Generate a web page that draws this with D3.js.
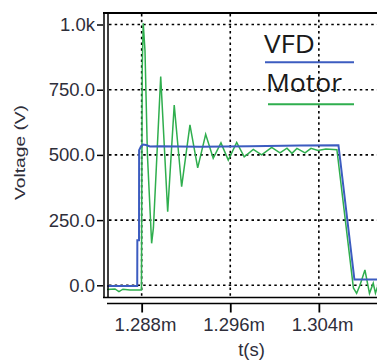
<!DOCTYPE html>
<html>
<head>
<meta charset="utf-8">
<script src="https://cdn.jsdelivr.net/npm/d3@7"></script>
<style>
  html, body { margin: 0; padding: 0; background: #fff; }
  svg { display: block; }
</style>
</head>
<body>
<div id="chart"></div>
<script>
// time in ms (axis shows "m" suffix), voltage in V
const vfdTime = [1.28487, 1.28760, 1.28761, 1.28776, 1.28777, 1.28794, 1.28812, 1.28839, 1.28875,
  1.28965, 1.29326, 1.29778, 1.30229, 1.30577, 1.30721, 1.30930];
const vfdVolt = [-3, -3, 173, 173, 518, 533, 540, 538, 532,
  533, 531, 533, 536, 537, 22, 22];

const motorTime = [1.28487, 1.28559, 1.28595, 1.28631, 1.28694, 1.28798, 1.28805, 1.28814, 1.28830,
  1.28852, 1.28890, 1.28906, 1.28972, 1.29035, 1.29094, 1.29161, 1.29236, 1.29306, 1.29378,
  1.29446, 1.29516, 1.29582, 1.29658, 1.29726, 1.29808, 1.29883, 1.29974, 1.30049, 1.30112,
  1.30157, 1.30202, 1.30275, 1.30329, 1.30392, 1.30464, 1.30563, 1.30712, 1.30741, 1.30771,
  1.30816, 1.30857, 1.30891, 1.30911, 1.30930];
const motorVolt = [-16, -14, -24, -15, -18, -18, 830, 1005, 900,
  500, 161, 220, 800, 282, 691, 378, 615, 450, 579,
  487, 546, 480, 548, 493, 521, 500, 529, 508, 526,
  506, 525, 508, 525, 517, 523, 520, -10, -31, 0,
  59, -31, 8, -30, -5];

const xTicks = [1.288, 1.296, 1.304];
const yTicks = [0, 250, 500, 750, 1000];
const yTickLabels = ["0.0", "250.0", "500.0", "750.0", "1.0k"];
const seriesNames = ["VFD", "Motor"];
const seriesColors = ["#3c5cc0", "#2fae4e"];

const width = 377, height = 361;
const plotL = 107, plotR = 377, plotT = 12, plotB = 297;

const svg = d3.select("#chart").append("svg")
  .attr("width", width)
  .attr("height", height);

const x = d3.scaleLinear().domain([1.28487, 1.30925]).range([plotL, plotR]);
const y = d3.scaleLinear().domain([0, 1000]).range([285.3, 24.5]);

svg.append("clipPath").attr("id", "plot")
  .append("rect").attr("x", plotL).attr("y", plotT).attr("width", plotR - plotL + 5).attr("height", plotB - plotT);

// dotted grid
const grid = svg.append("g")
  .attr("stroke", "#000")
  .attr("stroke-width", 1.6)
  .attr("stroke-dasharray", "2.5,3.2");
grid.selectAll(".gy").data(yTicks).enter().append("line")
  .attr("x1", plotL + 2).attr("x2", plotR)
  .attr("y1", d => y(d)).attr("y2", d => y(d));
grid.selectAll(".gx").data(xTicks).enter().append("line")
  .attr("y1", plotT + 2).attr("y2", plotB)
  .attr("x1", d => x(d)).attr("x2", d => x(d));

// traces
const line = d3.line().x(d => x(d[0])).y(d => y(d[1]));
const plot = svg.append("g").attr("clip-path", "url(#plot)").attr("fill", "none");
plot.append("path")
  .datum(motorTime.map((t, i) => [t, motorVolt[i]]))
  .attr("d", line)
  .attr("stroke", seriesColors[1])
  .attr("stroke-width", 1.5);
plot.append("path")
  .datum(vfdTime.map((t, i) => [t, vfdVolt[i]]))
  .attr("d", line)
  .attr("stroke", seriesColors[0])
  .attr("stroke-width", 2);

// frame and axis lines
const frame = svg.append("g").attr("stroke", "#000").attr("fill", "none");
frame.append("line").attr("x1", 103).attr("x2", plotR).attr("y1", 13).attr("y2", 13).attr("stroke-width", 2);
frame.append("line").attr("x1", 104).attr("x2", 104).attr("y1", 12).attr("y2", 298).attr("stroke-width", 1.5);
frame.append("line").attr("x1", 108).attr("x2", 108).attr("y1", 12).attr("y2", 298).attr("stroke-width", 1.5);
frame.append("line").attr("x1", 103).attr("x2", plotR).attr("y1", 297.5).attr("y2", 297.5).attr("stroke-width", 1.5);
frame.append("line").attr("x1", 107).attr("x2", plotR).attr("y1", 303.5).attr("y2", 303.5).attr("stroke-width", 1.5);

// y axis ticks + labels
const yAxis = svg.append("g").attr("transform", "translate(103,0)")
  .call(d3.axisLeft(y).tickValues(yTicks).tickFormat((d, i) => yTickLabels[i]).tickSize(6).tickPadding(2));
yAxis.select(".domain").remove();
yAxis.selectAll(".tick line").attr("stroke", "#000").attr("stroke-width", 1.5);
yAxis.selectAll(".tick text")
  .attr("font-family", "Liberation Sans, Arial, sans-serif")
  .attr("font-size", 18.5)
  .attr("fill", "#2e2e3a");

// x axis ticks + labels
const xAxis = svg.append("g").attr("transform", "translate(0,303.5)")
  .call(d3.axisBottom(x).tickValues(xTicks).tickFormat(d => d3.format(".3f")(d) + "m").tickSize(9).tickPadding(5));
xAxis.select(".domain").remove();
xAxis.selectAll(".tick line").attr("stroke", "#000").attr("stroke-width", 1.8);
xAxis.selectAll(".tick text")
  .attr("font-family", "Liberation Sans, Arial, sans-serif")
  .attr("font-size", 18.5)
  .attr("fill", "#2e2e3a")
  .attr("dx", 3.3);

// axis titles
svg.append("text")
  .attr("x", 251.5).attr("y", 356)
  .attr("text-anchor", "middle")
  .attr("font-family", "Liberation Sans, Arial, sans-serif")
  .attr("font-size", 18.5)
  .attr("fill", "#2e2e3a")
  .text("t(s)");
svg.append("text")
  .attr("transform", "translate(25,152.5) rotate(-90)")
  .attr("text-anchor", "middle")
  .attr("font-family", "Liberation Sans, Arial, sans-serif")
  .attr("font-size", 14)
  .attr("textLength", 95)
  .attr("lengthAdjust", "spacingAndGlyphs")
  .attr("fill", "#2e2e3a")
  .text("Voltage (V)");

// legend
const legendY = [53.3, 91.7];
const legendX = [264, 266];
const legendLen = [51, 76];
const legendLineY = [62.3, 104.3];
const legendLineX = [265, 268];
const legend = svg.append("g");
seriesNames.forEach((name, i) => {
  legend.append("text")
    .attr("x", legendX[i]).attr("y", legendY[i])
    .attr("font-family", "Open Sans, sans-serif")
    .attr("font-size", 26)
    .attr("textLength", legendLen[i])
    .attr("lengthAdjust", "spacingAndGlyphs")
    .attr("fill", "#1a1a1a")
    .text(name);
  legend.append("line")
    .attr("x1", legendLineX[i]).attr("x2", 354)
    .attr("y1", legendLineY[i]).attr("y2", legendLineY[i])
    .attr("stroke", seriesColors[i])
    .attr("stroke-width", 2);
});
</script>
</body>
</html>
